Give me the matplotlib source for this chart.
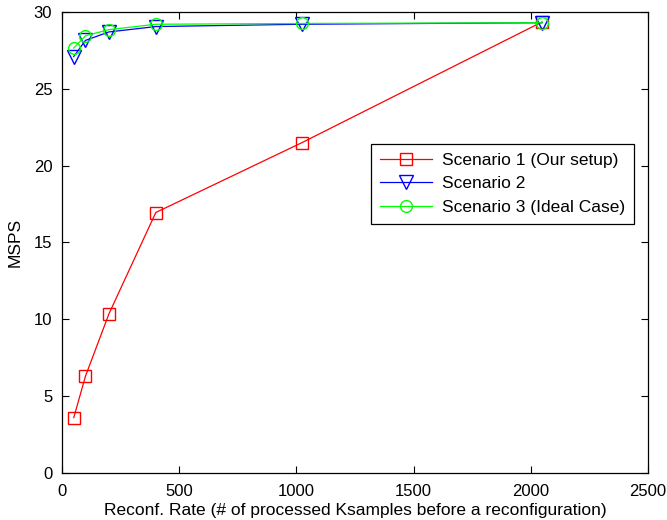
import matplotlib
matplotlib.use("Agg")
import matplotlib.pyplot as plt

plt.rcParams['font.family'] = ['Liberation Sans', 'DejaVu Sans']

# reconfiguration rate (Ksamples) and throughput (MSPS)
rate = [50, 100, 200, 400, 1024, 2048]
scenario1 = [3.6, 6.3, 10.35, 16.95, 21.5, 29.35]
scenario2 = [27.1, 28.15, 28.7, 29.05, 29.2, 29.3]
scenario3 = [27.65, 28.45, 28.85, 29.2, 29.25, 29.3]

labels = ["Scenario 1 (Our setup)", "Scenario 2", "Scenario 3 (Ideal Case)"]

fig = plt.figure(figsize=(6.67, 5.2), dpi=100)
ax = fig.add_axes([0.093, 0.0904, 0.8785, 0.8866])

ax.plot(rate, scenario1, color='#ff0000', marker='s', markersize=8.5, markerfacecolor='none',
        linewidth=0.9, label=labels[0])
ax.plot(rate, scenario2, color='#0000ff', marker='v', markersize=9.5, markerfacecolor='none',
        linewidth=0.9, label=labels[1])
ax.plot(rate, scenario3, color='#00ff00', marker='o', markersize=8.5, markerfacecolor='none',
        linewidth=0.9, label=labels[2])

ax.set_xlim(0, 2500)
ax.set_ylim(0, 30)
ax.set_xticks(range(0, 2501, 500))
ax.set_yticks(range(0, 31, 5))
ax.tick_params(direction='in', top=True, right=True, labelsize=12, length=5)
ax.tick_params(axis='x', pad=8)
ax.tick_params(axis='y', pad=7)
for s in ax.spines.values():
    s.set_linewidth(0.9)

ax.set_xlabel("Reconf. Rate (# of processed Ksamples before a reconfiguration)", fontsize=12.5, labelpad=3)
ax.set_ylabel("MSPS", fontsize=12.5, labelpad=8)

leg = ax.legend(loc='upper left', bbox_to_anchor=(0.527, 0.714), borderaxespad=0, fontsize=12.5,
                fancybox=False, edgecolor='black', framealpha=1,
                handlelength=3.0, borderpad=0.5, labelspacing=0.5, handletextpad=0.6)
leg.get_frame().set_linewidth(0.9)

fig.savefig("out.png", dpi=100)
